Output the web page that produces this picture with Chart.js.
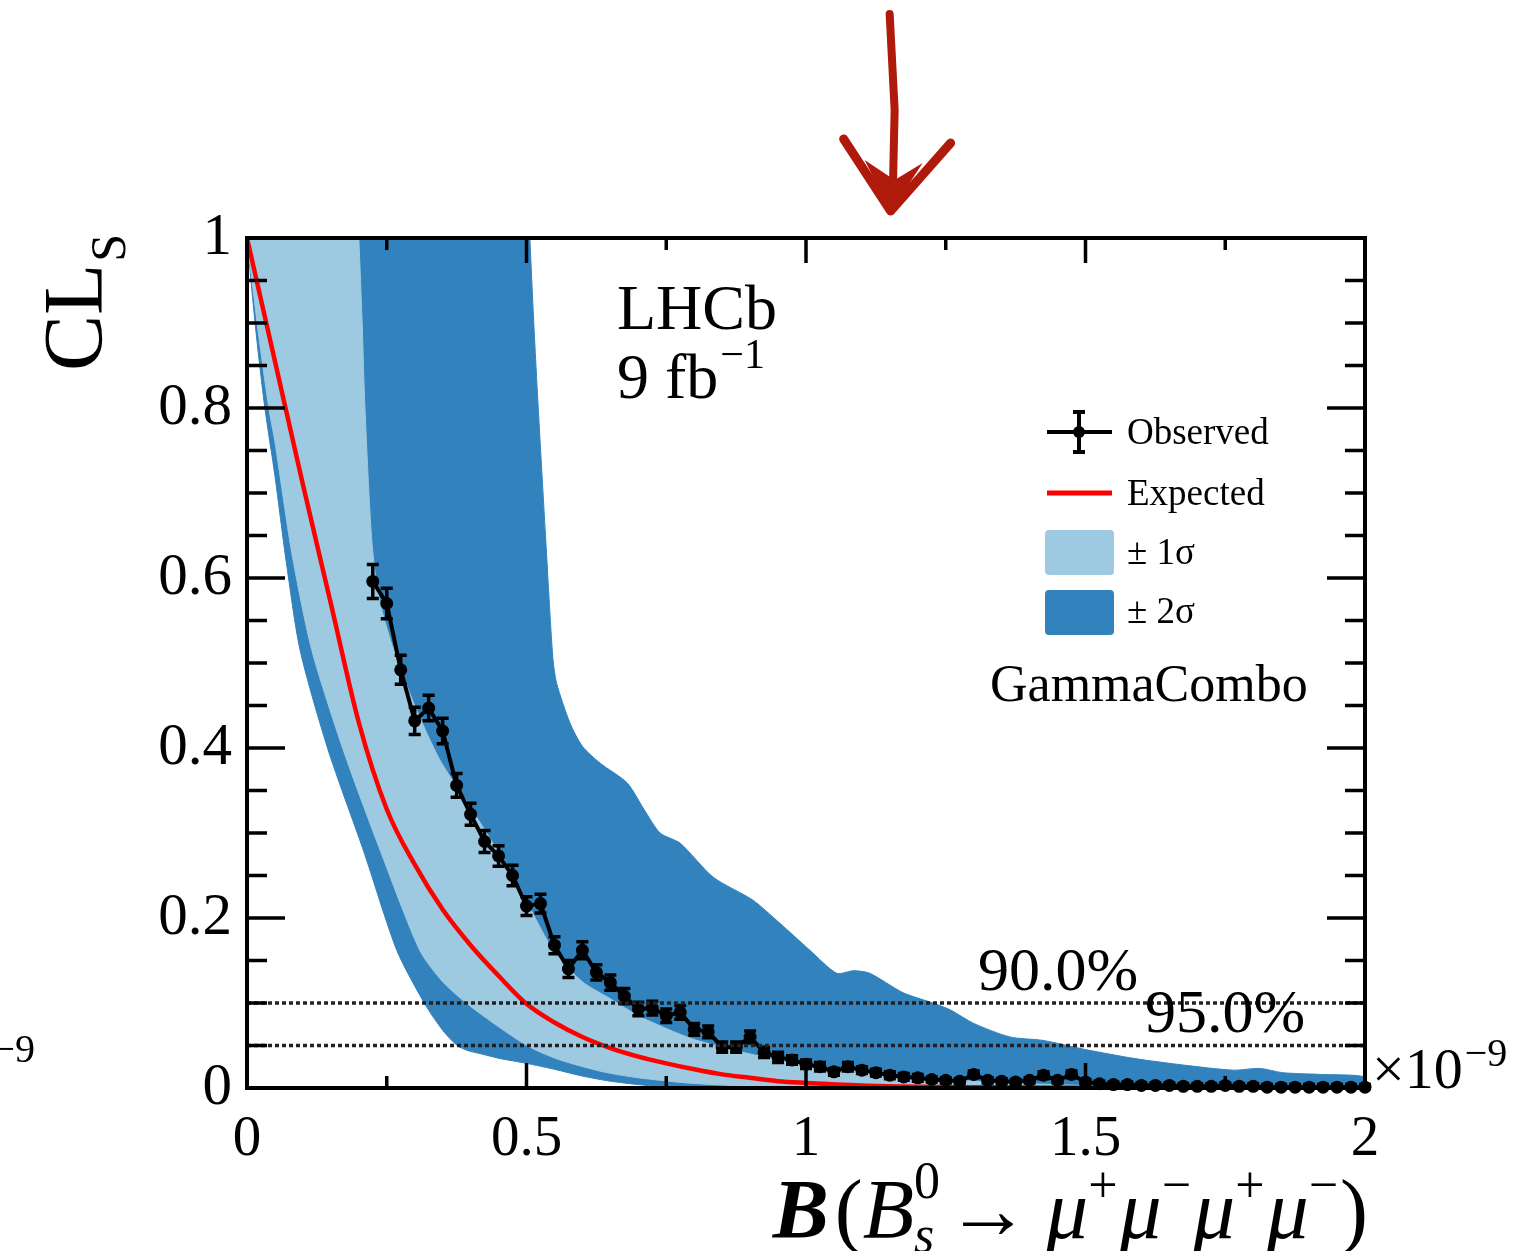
<!DOCTYPE html>
<html>
<head>
<meta charset="utf-8">
<title>CLs scan</title>
<script src="https://cdn.jsdelivr.net/npm/chart.js@4.4.1/dist/chart.umd.min.js"></script>
<style>
    html, body { margin: 0; padding: 0; background: #fff; }
    canvas { display: block; }
</style>
</head>
<body>
<canvas id="myChart" width="1516" height="1251"></canvas>
<script>
const ctx = document.getElementById('myChart');
const serif = "'Liberation Serif', 'DejaVu Serif', serif";

// observed CLs (x in units of 1e-9)
const obsX = [0.225, 0.25, 0.275, 0.3, 0.325, 0.35, 0.375, 0.4, 0.425, 0.45,
    0.475, 0.5, 0.525, 0.55, 0.575, 0.6, 0.625, 0.65, 0.675, 0.7,
    0.725, 0.75, 0.775, 0.8, 0.825, 0.85, 0.875, 0.9, 0.925, 0.95,
    0.975, 1.0, 1.025, 1.05, 1.075, 1.1, 1.125, 1.15, 1.175, 1.2,
    1.225, 1.25, 1.275, 1.3, 1.325, 1.35, 1.375, 1.4, 1.425, 1.45,
    1.475, 1.5, 1.525, 1.55, 1.575, 1.6, 1.625, 1.65, 1.675, 1.7,
    1.725, 1.75, 1.775, 1.8, 1.825, 1.85, 1.875, 1.9, 1.925, 1.95,
    1.975, 2.0];
const obsY = [0.596, 0.570, 0.492, 0.432, 0.447, 0.420, 0.356, 0.322, 0.290, 0.273,
    0.250, 0.214, 0.217, 0.168, 0.140, 0.162, 0.136, 0.124, 0.108, 0.093,
    0.094, 0.085, 0.089, 0.069, 0.066, 0.048, 0.048, 0.060, 0.042, 0.036,
    0.033, 0.028, 0.025, 0.019, 0.025, 0.021, 0.018, 0.015, 0.013, 0.012,
    0.010, 0.009, 0.008, 0.016, 0.009, 0.008, 0.007, 0.009, 0.015, 0.009,
    0.016, 0.007, 0.005, 0.004, 0.004, 0.003, 0.003, 0.003, 0.002, 0.002,
    0.002, 0.003, 0.002, 0.002, 0.001, 0.001, 0.001, 0.001, 0.001, 0.001,
    0.001, 0.001];
const obsErr = [0.020, 0.018, 0.017, 0.016, 0.015, 0.015, 0.014, 0.013, 0.013, 0.012,
    0.012, 0.011, 0.011, 0.010, 0.010, 0.010, 0.009, 0.009, 0.009, 0.008,
    0.008, 0.008, 0.008, 0.007, 0.007, 0.006, 0.006, 0.007, 0.006, 0.006,
    0.005, 0.005, 0.005, 0.004, 0.005, 0.004, 0.004, 0.004, 0.004, 0.004,
    0.003, 0.003, 0.003, 0.004, 0.003, 0.003, 0.003, 0.003, 0.004, 0.003,
    0.004, 0.003, 0.003, 0.003, 0.003, 0.003, 0.003, 0.003, 0.003, 0.003,
    0.003, 0.003, 0.003, 0.003, 0.003, 0.003, 0.003, 0.003, 0.003, 0.003,
    0.003, 0.003];

// expected CLs
const expX = [0, 0.05, 0.1, 0.15, 0.2, 0.25, 0.3, 0.35, 0.4, 0.45, 0.5, 0.55, 0.6,
    0.65, 0.7, 0.75, 0.8, 0.85, 0.9, 0.95, 1.0, 1.1, 1.2, 1.3, 1.5, 2.0];
const expY = [1, 0.855, 0.71, 0.57, 0.43, 0.328, 0.263, 0.21, 0.168, 0.132, 0.099, 0.077, 0.06,
    0.047, 0.037, 0.029, 0.022, 0.016, 0.012, 0.008, 0.006, 0.003, 0.0015, 0.0008, 0.0002, 0];

// +-1 sigma band, upper and lower edge (upper edge runs past 1 and is cut by the frame)
const sig1HiX = [0, 0.193, 0.2, 0.206, 0.211, 0.223, 0.235, 0.26, 0.3, 0.345, 0.4, 0.44, 0.483, 0.548, 0.6, 0.65,
    0.7, 0.75, 0.8, 0.9, 1.0, 1.1, 1.2, 1.3, 1.4, 1.5, 1.7, 2.0];
const sig1HiY = [1.1, 1.1, 1, 0.9, 0.8, 0.646, 0.58, 0.52, 0.45, 0.386, 0.33, 0.288, 0.241, 0.162, 0.125, 0.105,
    0.085, 0.07, 0.057, 0.04, 0.028, 0.019, 0.012, 0.008, 0.005, 0.003, 0.001, 0];
const sig1LoX = [0, 0.02, 0.039, 0.05, 0.08, 0.116, 0.172, 0.238, 0.309, 0.35, 0.394, 0.45, 0.506, 0.56, 0.637,
    0.7, 0.787, 0.9, 0.995, 2.0];
const sig1LoY = [1, 0.89, 0.8, 0.76, 0.63, 0.515, 0.398, 0.28, 0.162, 0.125, 0.099, 0.072, 0.048, 0.033, 0.019,
    0.012, 0.006, 0.002, 0, 0];

// +-2 sigma band, upper and lower edge
const sig2HiX = [0, 0.499, 0.506, 0.513, 0.521, 0.534, 0.547, 0.554, 0.578, 0.6, 0.632, 0.68, 0.71, 0.739, 0.775, 0.834, 0.905,
    0.953, 1.007, 1.055, 1.085, 1.114, 1.174, 1.227, 1.258, 1.3, 1.365, 1.424, 1.502, 1.585, 1.675,
    1.764, 1.812, 1.853, 1.92, 2.0];
const sig2HiY = [1.1, 1.1, 1, 0.9, 0.8, 0.65, 0.507, 0.476, 0.429, 0.402, 0.382, 0.359, 0.328, 0.3, 0.288, 0.248, 0.221,
    0.194, 0.162, 0.135, 0.138, 0.135, 0.112, 0.1, 0.092, 0.076, 0.06, 0.056, 0.045, 0.035, 0.027,
    0.021, 0.023, 0.018, 0.016, 0.013];
const sig2LoX = [0, 0.016, 0.032, 0.05, 0.07, 0.095, 0.145, 0.208, 0.268, 0.318, 0.35, 0.376, 0.395, 0.42, 0.45, 0.5,
    0.55, 0.6, 0.65, 0.7, 0.75, 0.8, 2.0];
const sig2LoY = [1, 0.89, 0.8, 0.72, 0.62, 0.515, 0.398, 0.28, 0.162, 0.099, 0.068, 0.05, 0.044, 0.04, 0.035, 0.029,
    0.022, 0.014, 0.008, 0.004, 0.001, 0, 0];

const clLevels = [0.1, 0.05];
const clLabels = ['90.0%', '95.0%'];

const xTicks = [0, 0.5, 1, 1.5, 2];
const xTickLabels = ['0', '0.5', '1', '1.5', '2'];
const xMinorTicks = [0.25, 0.75, 1.25, 1.75];
const yTicks = [0, 0.2, 0.4, 0.6, 0.8, 1];
const yTickLabels = ['0', '0.2', '0.4', '0.6', '0.8', '1'];
const yMinorTicks = [0.05, 0.1, 0.15, 0.25, 0.3, 0.35, 0.45, 0.5, 0.55, 0.65, 0.7, 0.75, 0.85, 0.9, 0.95];

const arrowAt = 1.155;

const lightBlue = '#9ecae1';
const darkBlue = '#3182bd';
const red = '#ff0000';

function toPoints(xs, ys) {
    let pts = [];
    for (let i = 0; i < xs.length; i++) pts.push({ x: xs[i], y: ys[i] });
    return pts;
}

// closed outline: along the upper edge, back along the lower edge
function bandShape(hiX, hiY, loX, loY) {
    let pts = toPoints(hiX, hiY);
    for (let i = loX.length - 1; i >= 0; i--) pts.push({ x: loX[i], y: loY[i] });
    return pts;
}

function drawSeq(c, parts, x, base) {
    for (const p of parts) {
        c.font = p.f;
        if (p.stack) {
            let w = 0;
            for (const s of p.stack) {
                c.font = s.f;
                c.fillText(s.t, x, base + s.dy);
                w = Math.max(w, c.measureText(s.t).width);
            }
            x += w + (p.gap || 0);
        } else {
            c.fillText(p.t, x, base + (p.dy || 0));
            x += c.measureText(p.t).width + (p.gap || 0);
        }
    }
    return x;
}

function seqWidth(c, parts) {
    let w = 0;
    for (const p of parts) {
        if (p.stack) {
            let m = 0;
            for (const s of p.stack) { c.font = s.f; m = Math.max(m, c.measureText(s.t).width); }
            w += m + (p.gap || 0);
        } else {
            c.font = p.f;
            w += c.measureText(p.t).width + (p.gap || 0);
        }
    }
    return w;
}

const rootStyle = {
    id: 'rootStyle',
    afterDatasetsDraw(chart) {
        const c = chart.ctx;
        const a = chart.chartArea;
        const xs = chart.scales.x;
        const ys = chart.scales.y;
        c.save();

        // error bars on observed points
        c.strokeStyle = '#000';
        c.lineWidth = 3.5;
        for (let i = 0; i < obsX.length; i++) {
            const px = xs.getPixelForValue(obsX[i]);
            const y1 = ys.getPixelForValue(obsY[i] + obsErr[i]);
            const y2 = ys.getPixelForValue(Math.max(obsY[i] - obsErr[i], 0));
            c.beginPath();
            c.moveTo(px, y1); c.lineTo(px, y2);
            c.moveTo(px - 6, y1); c.lineTo(px + 6, y1);
            c.moveTo(px - 6, y2); c.lineTo(px + 6, y2);
            c.stroke();
        }

        // CL lines
        c.setLineDash([4, 3]);
        c.lineWidth = 3.5;
        c.strokeStyle = '#222';
        for (const lvl of clLevels) {
            const py = ys.getPixelForValue(lvl);
            c.beginPath(); c.moveTo(a.left, py); c.lineTo(a.right, py); c.stroke();
        }
        c.setLineDash([]);

        // frame and inward ticks
        c.strokeStyle = '#000';
        c.lineWidth = 4;
        c.strokeRect(a.left, a.top, a.right - a.left, a.bottom - a.top);
        c.lineWidth = 3.5;
        c.beginPath();
        for (const v of xTicks.concat(xMinorTicks)) {
            const len = xTicks.includes(v) ? 25 : 12;
            const px = xs.getPixelForValue(v);
            c.moveTo(px, a.bottom); c.lineTo(px, a.bottom - len);
            c.moveTo(px, a.top); c.lineTo(px, a.top + len);
        }
        for (const v of yTicks.concat(yMinorTicks)) {
            const len = yTicks.includes(v) ? 38 : 20;
            const py = ys.getPixelForValue(v);
            c.moveTo(a.left, py); c.lineTo(a.left + len, py);
            c.moveTo(a.right, py); c.lineTo(a.right - len, py);
        }
        c.stroke();
        c.restore();
    },
    afterDraw(chart) {
        const c = chart.ctx;
        const a = chart.chartArea;
        const xs = chart.scales.x;
        const ys = chart.scales.y;
        c.save();
        c.fillStyle = '#000';
        c.textBaseline = 'alphabetic';
        c.textAlign = 'left';

        // CL labels
        c.font = '62px ' + serif;
        c.fillText(clLabels[0], 978, ys.getPixelForValue(clLevels[0]) - 13);
        c.fillText(clLabels[1], 1145, ys.getPixelForValue(clLevels[1]) - 14);

        // experiment label
        c.font = '64px ' + serif;
        c.fillText('LHCb', 617, 329);
        let w = drawSeq(c, [{ t: '9 fb', f: '64px ' + serif }], 617, 398);
        c.font = '42px ' + serif;
        c.fillText('\u22121', w + 2, 368);

        // legend
        const lx = 1047, lx2 = 1112, tx = 1127;
        c.strokeStyle = '#000';
        c.lineWidth = 4;
        c.beginPath();
        c.moveTo(lx, 432); c.lineTo(lx2, 432);
        c.moveTo(1079, 412); c.lineTo(1079, 452);
        c.moveTo(1073, 412); c.lineTo(1085, 412);
        c.moveTo(1073, 452); c.lineTo(1085, 452);
        c.stroke();
        c.beginPath(); c.arc(1079, 432, 6, 0, Math.PI * 2); c.fill();
        c.strokeStyle = red;
        c.lineWidth = 5;
        c.beginPath(); c.moveTo(lx, 493); c.lineTo(lx2, 493); c.stroke();
        c.fillStyle = lightBlue;
        c.beginPath(); c.roundRect(1045, 530, 69, 45, 4); c.fill();
        c.fillStyle = darkBlue;
        c.beginPath(); c.roundRect(1045, 590, 69, 45, 4); c.fill();
        c.fillStyle = '#000';
        c.font = '37px ' + serif;
        c.textBaseline = 'middle';
        c.fillText('Observed', tx, 434);
        c.fillText('Expected', tx, 495);
        c.fillText('\u00b1 1\u03c3', tx, 554);
        c.fillText('\u00b1 2\u03c3', tx, 613);
        c.font = '52px ' + serif;
        c.fillText('GammaCombo', 990, 687);
        c.textBaseline = 'alphabetic';

        // exponent of the x axis, and the one cut at the left edge
        w = drawSeq(c, [{ t: '\u00d710', f: '58px ' + serif }], 1372, 1088);
        c.font = '40px ' + serif;
        c.fillText('\u22129', w + 2, 1066);
        c.textAlign = 'right';
        c.fillText('\u22129', 35, 1062);
        c.textAlign = 'left';

        // y title CL_S
        c.save();
        c.translate(102, 371);
        c.rotate(-Math.PI / 2);
        c.font = '84px ' + serif;
        c.fillText('CL', 0, 0);
        const clw = c.measureText('CL').width;
        c.font = '50px ' + serif;
        c.fillText('S', clw + 2, 23);
        c.restore();

        // x title
        const big = 84, small = 52;
        const it = 'italic ' + big + 'px ' + serif;
        const rg = big + 'px ' + serif;
        const sm = small + 'px ' + serif;
        const parts = [
            { t: 'B', f: 'italic bold ' + big + 'px ' + serif, gap: 6 },
            { t: '(', f: rg },
            { t: 'B', f: it },
            { stack: [{ t: '0', f: sm, dy: -40 }, { t: 's', f: 'italic ' + sm, dy: 14 }], gap: 6 },
            { t: '\u2192', f: 'bold ' + rg, gap: 16 },
            { t: '\u03bc', f: it }, { t: '+', f: sm, dy: -36, gap: 2 },
            { t: '\u03bc', f: it }, { t: '\u2212', f: sm, dy: -36, gap: 2 },
            { t: '\u03bc', f: it }, { t: '+', f: sm, dy: -36, gap: 2 },
            { t: '\u03bc', f: it }, { t: '\u2212', f: sm, dy: -36, gap: 2 },
            { t: ')', f: rg }
        ];
        const tw = seqWidth(c, parts);
        drawSeq(c, parts, a.right + 3 - tw, 1238);

        // red hand drawn arrow above the frame
        const ax = xs.getPixelForValue(arrowAt);
        c.strokeStyle = '#b01a0b';
        c.fillStyle = '#b01a0b';
        c.lineCap = 'round';
        c.lineJoin = 'round';
        c.lineWidth = 8;
        c.beginPath();
        c.moveTo(ax - 3, 14); c.lineTo(ax + 2, 110); c.lineTo(ax, 200);
        c.stroke();
        c.lineWidth = 9;
        c.beginPath();
        c.moveTo(ax - 49, 139); c.lineTo(ax - 2, 211); c.lineTo(ax + 58, 143);
        c.stroke();
        c.beginPath();
        c.moveTo(ax - 28, 160); c.lineTo(ax - 2, 212); c.lineTo(ax + 30, 163); c.lineTo(ax + 2, 180);
        c.closePath();
        c.fill();
        c.restore();
    }
};

const data = {
    datasets: [
        {
            label: 'Observed',
            data: toPoints(obsX, obsY),
            showLine: true,
            borderColor: '#000',
            backgroundColor: '#000',
            borderWidth: 4,
            pointRadius: 6.5,
            pointBorderWidth: 0,
            clip: 14,
            order: 0
        },
        {
            label: 'Expected',
            data: toPoints(expX, expY),
            showLine: true,
            borderColor: red,
            borderWidth: 4.5,
            pointRadius: 0,
            cubicInterpolationMode: 'monotone',
            order: 1
        },
        {
            label: '\u00b1 1\u03c3',
            data: bandShape(sig1HiX, sig1HiY, sig1LoX, sig1LoY),
            showLine: true,
            fill: 'shape',
            backgroundColor: lightBlue,
            borderColor: lightBlue,
            borderWidth: 1,
            pointRadius: 0,
            tension: 0.25,
            order: 2
        },
        {
            label: '\u00b1 2\u03c3',
            data: bandShape(sig2HiX, sig2HiY, sig2LoX, sig2LoY),
            showLine: true,
            fill: 'shape',
            backgroundColor: darkBlue,
            borderColor: darkBlue,
            borderWidth: 1,
            pointRadius: 0,
            tension: 0.25,
            order: 3
        }
    ]
};

const config = {
    type: 'scatter',
    data: data,
    options: {
        responsive: false,
        animation: false,
        events: [],
        layout: { padding: { top: 238, right: 151, left: 0, bottom: 0 } },
        plugins: {
            legend: { display: false },
            tooltip: { enabled: false }
        },
        scales: {
            x: {
                type: 'linear',
                min: 0,
                max: 2,
                afterFit: (s) => { s.height = 163; },
                afterBuildTicks: (s) => { s.ticks = xTicks.map(v => ({ value: v })); },
                grid: { display: false, drawTicks: false },
                border: { display: false },
                ticks: {
                    color: '#000',
                    font: { family: serif, size: 57 },
                    padding: 18,
                    maxRotation: 0,
                    autoSkip: false,
                    callback: (v, i) => xTickLabels[i]
                }
            },
            y: {
                type: 'linear',
                min: 0,
                max: 1,
                afterFit: (s) => { s.width = 247; },
                afterBuildTicks: (s) => { s.ticks = yTicks.map(v => ({ value: v })); },
                grid: { display: false, drawTicks: false },
                border: { display: false },
                ticks: {
                    color: '#000',
                    font: { family: serif, size: 59 },
                    padding: 15,
                    autoSkip: false,
                    callback: (v, i) => yTickLabels[i]
                }
            }
        }
    },
    plugins: [rootStyle]
};

let myChart = new Chart(ctx, config);
</script>
</body>
</html>
